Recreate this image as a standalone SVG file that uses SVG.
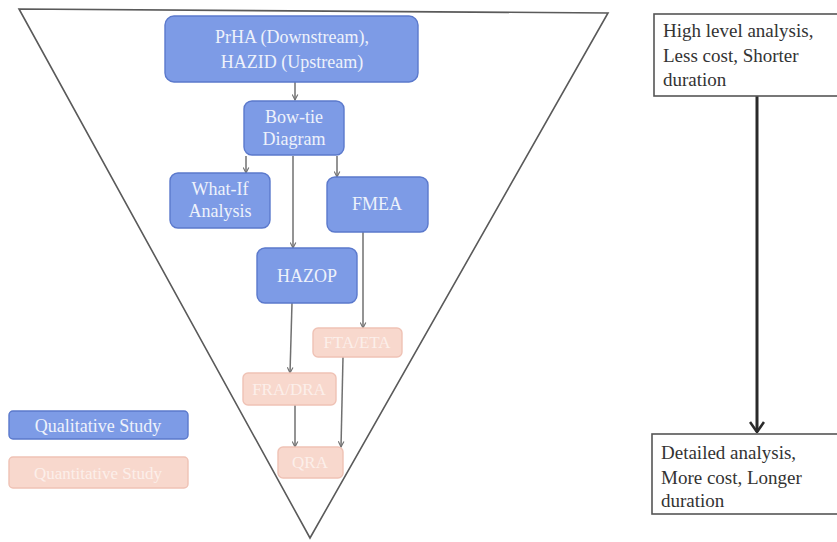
<svg xmlns="http://www.w3.org/2000/svg" width="837" height="542" viewBox="0 0 837 542">
<defs>
<style>
.bg{fill:#ffffff}
.tri{fill:none;stroke:#5a5a5a;stroke-width:1.6}
.blue{fill:#7d9be6;stroke:#5b79cc;stroke-width:1.4}
.pink{fill:#f8d8cd;stroke:#efc2b5;stroke-width:1.4}
.bt{font-family:"Liberation Serif","Times New Roman",serif;font-size:18px;fill:#eef2fb;text-anchor:middle}
.pt{font-family:"Liberation Serif","Times New Roman",serif;font-size:17px;fill:#fcefea;text-anchor:middle}
.box{fill:#ffffff;stroke:#555;stroke-width:1.6}
.rt{font-family:"Liberation Serif","Times New Roman",serif;font-size:19px;fill:#333}
.conn{fill:none;stroke:#707070;stroke-width:1.5}
.big{fill:none;stroke:#2a2a2a;stroke-width:3}
</style>
<marker id="ah" viewBox="0 0 10 10" refX="9" refY="5" markerWidth="7" markerHeight="7" orient="auto" markerUnits="userSpaceOnUse">
<path d="M1,1 L9,5 L1,9" fill="none" stroke="#707070" stroke-width="1.6"/>
</marker>
<marker id="bh" viewBox="0 0 12 16" refX="11" refY="8" markerWidth="12" markerHeight="16" orient="auto" markerUnits="userSpaceOnUse">
<path d="M1,1 L11,8 L1,15" fill="none" stroke="#2a2a2a" stroke-width="2.6"/>
</marker>
</defs>
<rect class="bg" x="0" y="0" width="837" height="542"/>
<polygon id="funnel" class="tri" points="19,9 608,13 310,538"/>
<g id="connectors">
<line class="conn" x1="295" y1="82" x2="295" y2="100" marker-end="url(#ah)"/>
<line class="conn" x1="246" y1="156" x2="246" y2="173" marker-end="url(#ah)"/>
<line class="conn" x1="293" y1="156" x2="293" y2="248" marker-end="url(#ah)"/>
<line class="conn" x1="337" y1="156" x2="337" y2="177" marker-end="url(#ah)"/>
<line class="conn" x1="363" y1="232" x2="363" y2="328" marker-end="url(#ah)"/>
<line class="conn" x1="292" y1="303" x2="290" y2="373" marker-end="url(#ah)"/>
<line class="conn" x1="295" y1="405" x2="295" y2="447" marker-end="url(#ah)"/>
<line class="conn" x1="343" y1="357" x2="341" y2="447" marker-end="url(#ah)"/>
<line class="big" x1="757" y1="96" x2="757" y2="432" marker-end="url(#bh)"/>
</g>
<g id="prha">
<rect class="blue" x="165" y="16" width="253" height="66" rx="9"/>
<text class="bt" x="292" y="43" font-size="19.5">PrHA (Downstream),</text>
<text class="bt" x="292" y="68" font-size="19.5">HAZID (Upstream)</text>
</g>
<g id="bowtie">
<rect class="blue" x="244" y="101" width="100" height="54" rx="8"/>
<text class="bt" x="294" y="123">Bow-tie</text>
<text class="bt" x="294" y="145">Diagram</text>
</g>
<g id="whatif">
<rect class="blue" x="170" y="173" width="100" height="55" rx="8"/>
<text class="bt" x="220" y="195">What-If</text>
<text class="bt" x="220" y="217">Analysis</text>
</g>
<g id="fmea">
<rect class="blue" x="327" y="177" width="101" height="55" rx="8"/>
<text class="bt" x="377" y="210">FMEA</text>
</g>
<g id="hazop">
<rect class="blue" x="257" y="248" width="100" height="55" rx="8"/>
<text class="bt" x="307" y="282">HAZOP</text>
</g>
<g id="ftaeta">
<rect class="pink" x="313" y="328" width="89" height="29" rx="5"/>
<text class="pt" x="357" y="348">FTA/ETA</text>
</g>
<g id="fradra">
<rect class="pink" x="243" y="373" width="93" height="32" rx="5"/>
<text class="pt" x="289" y="395">FRA/DRA</text>
</g>
<g id="qra">
<rect class="pink" x="278" y="447" width="65" height="31" rx="5"/>
<text class="pt" x="310" y="468">QRA</text>
</g>
<g id="legend-qual">
<rect class="blue" x="9" y="411" width="179" height="28" rx="4"/>
<text class="bt" x="98" y="432" font-size="19.5">Qualitative Study</text>
</g>
<g id="legend-quant">
<rect class="pink" x="9" y="457" width="179" height="31" rx="4"/>
<text class="pt" x="98" y="479" font-size="19.5">Quantitative Study</text>
</g>
<g id="high">
<rect class="box" x="654" y="14" width="184" height="82"/>
<text class="rt" x="663" y="37">High level analysis,</text>
<text class="rt" x="663" y="62">Less cost, Shorter</text>
<text class="rt" x="663" y="86">duration</text>
</g>
<g id="detailed">
<rect class="box" x="652" y="434" width="186" height="80"/>
<text class="rt" x="661" y="459">Detailed analysis,</text>
<text class="rt" x="661" y="484">More cost, Longer</text>
<text class="rt" x="661" y="507">duration</text>
</g>
</svg>
